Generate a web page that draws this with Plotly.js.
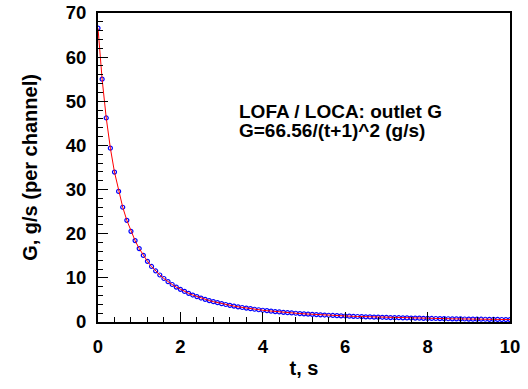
<!DOCTYPE html>
<html>
<head>
<meta charset="utf-8">
<script src="https://cdn.plot.ly/plotly-3.0.1.min.js"></script>
<style>html,body{margin:0;padding:0;background:#fff;}#chart{width:528px;height:389px;}</style>
</head>
<body>
<div id="chart"></div>
<script>
const tValues = [0.0,0.1,0.2,0.3,0.4,0.5,0.6,0.7,0.8,0.9,
  1.0,1.1,1.2,1.3,1.4,1.5,1.6,1.7,1.8,1.9,
  2.0,2.1,2.2,2.3,2.4,2.5,2.6,2.7,2.8,2.9,
  3.0,3.1,3.2,3.3,3.4,3.5,3.6,3.7,3.8,3.9,
  4.0,4.1,4.2,4.3,4.4,4.5,4.6,4.7,4.8,4.9,
  5.0,5.1,5.2,5.3,5.4,5.5,5.6,5.7,5.8,5.9,
  6.0,6.1,6.2,6.3,6.4,6.5,6.6,6.7,6.8,6.9,
  7.0,7.1,7.2,7.3,7.4,7.5,7.6,7.7,7.8,7.9,
  8.0,8.1,8.2,8.3,8.4,8.5,8.6,8.7,8.8,8.9,
  9.0,9.1,9.2,9.3,9.4,9.5,9.6,9.7,9.8,9.9,10.0];
// Outlet mass flow G, g/s (per channel)
const gValues = [66.56,55.01,46.22,39.38,33.96,29.58,26.00,23.03,20.54,18.44,
  16.64,15.09,13.75,12.58,11.56,10.65,9.85,9.13,8.49,7.91,
  7.40,6.93,6.50,6.11,5.76,5.43,5.14,4.86,4.61,4.38,
  4.16,3.96,3.77,3.60,3.44,3.29,3.15,3.01,2.89,2.77,
  2.66,2.56,2.46,2.37,2.28,2.20,2.12,2.05,1.98,1.91,
  1.85,1.79,1.73,1.68,1.62,1.58,1.53,1.48,1.44,1.40,
  1.36,1.32,1.28,1.25,1.22,1.18,1.15,1.12,1.09,1.07,
  1.04,1.01,0.99,0.97,0.94,0.92,0.90,0.88,0.86,0.84,
  0.82,0.80,0.79,0.77,0.75,0.74,0.72,0.71,0.69,0.68,
  0.67,0.65,0.64,0.63,0.62,0.60,0.59,0.58,0.57,0.56,0.55];
const xTicks = [0,2,4,6,8,10];
const yTicks = [0,10,20,30,40,50,60,70];
const noteLines = ["LOFA / LOCA: outlet G", "G=66.56/(t+1)^2 (g/s)"];

const fontFam = "Arial, 'Liberation Sans', sans-serif";

const traces = [
  {x: tValues, y: gValues, mode: 'markers', type: 'scatter',
   marker: {symbol: 'circle-open', size: 4, color: '#0000ff', line: {width: 1.2, color: '#0000ff'}},
   hoverinfo: 'skip'},
  {x: tValues, y: gValues, mode: 'lines', type: 'scatter',
   line: {color: '#ff0000', width: 1}, hoverinfo: 'skip'}
];

const tickFont = {family: fontFam, size: 18.5, color: '#000', weight: 'bold'};
const titleFont = {family: fontFam, size: 20, color: '#000', weight: 'bold'};
const noteFont = {family: fontFam, size: 19, color: '#000', weight: 'bold'};

const axisCommon = {
  showline: true, linecolor: '#000', linewidth: 2, mirror: true,
  showgrid: false, zeroline: false,
  ticks: 'inside', ticklen: 10, tickwidth: 1, tickcolor: '#000',
  tickfont: tickFont
};

const layout = {
  width: 528, height: 389,
  margin: {l: 98, r: 18, t: 13, b: 67},
  paper_bgcolor: '#fff', plot_bgcolor: '#fff',
  showlegend: false,
  xaxis: Object.assign({}, axisCommon, {
    range: [0, 10], tickvals: xTicks, ticktext: xTicks.map(String),
    ticklabelstandoff: 7,
    minor: {dtick: 0.4, ticks: 'inside', ticklen: 5, tickwidth: 1, tickcolor: '#000'},
    title: {text: 't, s', standoff: 5, font: titleFont}
  }),
  yaxis: Object.assign({}, axisCommon, {
    range: [0, 70], tickvals: yTicks, ticktext: yTicks.map(String),
    ticklabelstandoff: 6,
    minor: {dtick: 2, ticks: 'inside', ticklen: 5, tickwidth: 1, tickcolor: '#000'},
    title: {text: 'G, g/s (per channel)', standoff: 23, font: titleFont}
  }),
  annotations: [
    {xref: 'x', yref: 'y', x: 3.37, y: 47.7, xanchor: 'left', yanchor: 'middle',
     showarrow: false, text: noteLines[0], font: noteFont},
    {xref: 'x', yref: 'y', x: 3.37, y: 43.3, xanchor: 'left', yanchor: 'middle',
     showarrow: false, text: noteLines[1], font: noteFont}
  ]
};

Plotly.newPlot('chart', traces, layout, {staticPlot: true, displayModeBar: false});
</script>
</body>
</html>
